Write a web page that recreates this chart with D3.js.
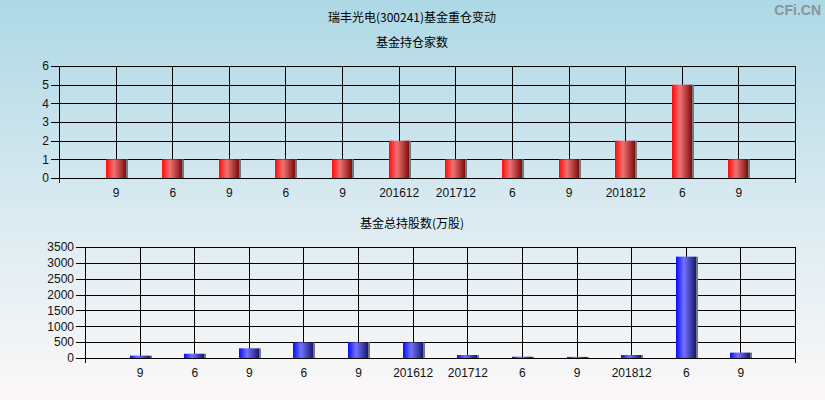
<!DOCTYPE html>
<html>
<head>
<meta charset="utf-8">
<script src="https://cdn.jsdelivr.net/npm/d3@7"></script>
<style>
  body { margin: 0; padding: 0; }
  svg { display: block; }
  text { font-family: "Liberation Sans", Arial, sans-serif; }
  .cjk { font-family: "Noto Sans CJK SC", sans-serif; }
</style>
</head>
<body>
<div id="chart"></div>
<script>
// labels along the bottom of both panels
const periods = ["9", "6", "9", "6", "9", "201612", "201712", "6", "9", "201812", "6", "9"];
// number of funds holding
const fundCounts = [1, 1, 1, 1, 1, 2, 1, 1, 1, 2, 5, 1];
// total shares held (10k shares)
const sharesHeld = [75, 135, 305, 490, 495, 490, 95, 40, 35, 95, 3195, 170];
const countTicks = [0, 1, 2, 3, 4, 5, 6];
const shareTicks = [0, 500, 1000, 1500, 2000, 2500, 3000, 3500];

const W = 825, H = 400;

const svg = d3.select("#chart").append("svg")
    .attr("width", W)
    .attr("height", H);

const defs = svg.append("defs");

let bg = defs.append("linearGradient")
    .attr("id", "bg").attr("x1", 0).attr("y1", 0).attr("x2", 0).attr("y2", 1);
bg.append("stop").attr("offset", "0%").attr("stop-color", "#add8e6");
bg.append("stop").attr("offset", "55%").attr("stop-color", "#dcebf1");
bg.append("stop").attr("offset", "100%").attr("stop-color", "#fcf8f8");

function barGradient(id, c0, c1, c2) {
    let g = defs.append("linearGradient")
        .attr("id", id).attr("x1", 0).attr("y1", 0).attr("x2", 1).attr("y2", 0);
    g.append("stop").attr("offset", "0%").attr("stop-color", c0);
    g.append("stop").attr("offset", "40%").attr("stop-color", c1);
    g.append("stop").attr("offset", "100%").attr("stop-color", c2);
}
barGradient("redBar", "#ff0a0a", "#f07272", "#7c0c0c");
barGradient("blueBar", "#0a0aff", "#7272ff", "#18186e");

svg.append("rect").attr("width", W).attr("height", H).attr("fill", "url(#bg)");

// titles
svg.append("text").attr("class", "cjk")
    .attr("x", 412).attr("y", 22)
    .attr("text-anchor", "middle")
    .style("font-size", "12px").style("fill", "#000")
    .text("瑞丰光电(300241)基金重仓变动");

svg.append("text")
    .attr("x", 821).attr("y", 15)
    .attr("text-anchor", "end")
    .style("font-size", "14px").style("font-weight", "bold")
    .style("fill", "#8c9499")
    .text("CFi.CN");

function drawPanel(opts) {
    const x = d3.scaleLinear().domain([0, periods.length + 1]).range([opts.left, opts.right]);
    const y = d3.scaleLinear().domain([0, opts.max]).range([opts.bottom, opts.top]);
    const g = svg.append("g");

    g.append("text").attr("class", "cjk")
        .attr("x", 412).attr("y", opts.titleY)
        .attr("text-anchor", "middle")
        .style("font-size", "12px").style("fill", "#000")
        .text(opts.title);

    // horizontal grid
    g.selectAll(".hgrid").data(opts.ticks).enter().append("line")
        .attr("x1", opts.left - opts.tickLen).attr("x2", opts.right)
        .attr("y1", d => Math.round(y(d)) + 0.5).attr("y2", d => Math.round(y(d)) + 0.5)
        .attr("stroke", "#000");

    // vertical grid at categories
    g.selectAll(".vgrid").data(periods).enter().append("line")
        .attr("x1", (d, i) => Math.round(x(i + 1)) + 0.5)
        .attr("x2", (d, i) => Math.round(x(i + 1)) + 0.5)
        .attr("y1", opts.top).attr("y2", opts.bottom)
        .attr("stroke", "#000");

    // frame
    g.append("line")
        .attr("x1", opts.left + 0.5).attr("x2", opts.left + 0.5)
        .attr("y1", opts.top).attr("y2", opts.bottom + 5)
        .attr("stroke", "#000");
    g.append("line")
        .attr("x1", opts.right + 0.5).attr("x2", opts.right + 0.5)
        .attr("y1", opts.top).attr("y2", opts.bottom + 5)
        .attr("stroke", "#000");

    // y labels
    g.append("g")
        .attr("transform", `translate(${opts.left - opts.tickLen - 2},0)`)
        .call(d3.axisLeft(y).tickValues(opts.ticks).tickFormat(d3.format("d"))
            .tickSize(0).tickPadding(0))
        .call(s => s.select(".domain").remove())
        .selectAll("text")
        .style("font-size", "12px")
        .style("fill", "#111")
        .style("font-family", "'Liberation Sans', Arial, sans-serif");

    // x labels
    g.append("g")
        .attr("transform", `translate(0,${opts.bottom + 10})`)
        .call(d3.axisBottom(x).tickValues(d3.range(1, periods.length + 1))
            .tickFormat(d => periods[d - 1]).tickSize(0).tickPadding(0))
        .call(s => s.select(".domain").remove())
        .selectAll("text")
        .style("font-size", "12px")
        .style("fill", "#111")
        .style("font-family", "'Liberation Sans', Arial, sans-serif");

    // bars
    const bw = 20;
    g.selectAll(".shadow").data(opts.values).enter().append("rect")
        .attr("x", (d, i) => Math.round(x(i + 1)) - bw / 2 + bw)
        .attr("width", 2)
        .attr("y", d => y(d))
        .attr("height", d => opts.bottom - y(d))
        .attr("fill", "#6e7c82");

    g.selectAll(".bar").data(opts.values).enter().append("rect")
        .attr("x", (d, i) => Math.round(x(i + 1)) - bw / 2)
        .attr("width", bw)
        .attr("y", d => y(d))
        .attr("height", d => opts.bottom - y(d))
        .attr("fill", opts.fill);
}

drawPanel({
    title: "基金持仓家数", titleY: 47,
    left: 59, right: 795, top: 66, bottom: 178,
    max: 6, ticks: countTicks, tickLen: 8,
    values: fundCounts, fill: "url(#redBar)"
});

drawPanel({
    title: "基金总持股数(万股)", titleY: 228,
    left: 85, right: 795, top: 247, bottom: 358,
    max: 3500, ticks: shareTicks, tickLen: 9,
    values: sharesHeld, fill: "url(#blueBar)"
});
</script>
</body>
</html>
